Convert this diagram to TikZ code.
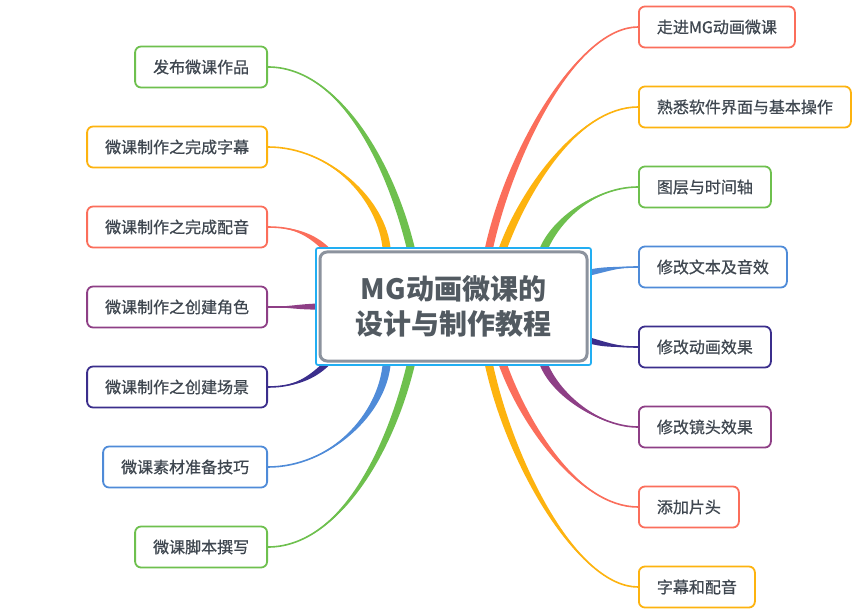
\documentclass[tikz,border=0pt]{standalone}
\usepackage{fontspec}
\newfontfamily\cjk{Noto Sans CJK SC}[FakeBold=0.7]
\newfontfamily\cjkroot{Noto Sans CJK SC}
\usetikzlibrary{calc,fit,backgrounds,positioning}

\definecolor{bred}{HTML}{FB6E5B}
\definecolor{byellow}{HTML}{FDB30F}
\definecolor{bgreen}{HTML}{6EC04E}
\definecolor{bblue}{HTML}{4F8BD8}
\definecolor{bnavy}{HTML}{3B2E8C}
\definecolor{bpurple}{HTML}{8E3F86}
\definecolor{ink}{HTML}{3F4750}
\definecolor{rootgray}{HTML}{8C939E}
\definecolor{halo}{HTML}{22AEF2}

\tikzset{
  leaf/.style={draw=#1, fill=white, line width=1.8pt, rounded corners=6pt,
    minimum height=41pt, inner xsep=18pt, text=ink,
    font=\cjk\fontsize{16}{16}\selectfont},
  rootbox/.style={draw=rootgray, fill=white, line width=3pt, rounded corners=7pt,
    minimum width=267pt, minimum height=109pt, align=center, text=ink!90,
    font=\cjkroot\bfseries\fontsize{28}{35}\selectfont},
}

% tapered branch: [half width]{colour}{start}{control 1}{control 2}{end}
\newcommand{\branch}[6][4pt]{%
  \fill[#2] ($(#3)!#1!90:(#4)$) .. controls ($(#4)!#1!-90:(#3)$) and (#5) .. (#6)
    .. controls (#5) and ($(#4)!#1!90:(#3)$) .. ($(#3)!#1!-90:(#4)$) -- cycle;
  \draw[#2, line width=1.6pt] (#3) .. controls (#4) and (#5) .. (#6);}

\begin{document}
\begin{tikzpicture}[x=1pt, y=-1pt]
    \useasboundingbox (0,0) rectangle (867,612);

    \node[rootbox] (root) at (453.5,306.5) {MG动画微课的\\设计与制作教程};

    % right side
    \node[leaf=bred, anchor=west] (r1) at (638,27) {走进MG动画微课};
    \node[leaf=byellow, anchor=west] (r2) at (638,107) {熟悉软件界面与基本操作};
    \node[leaf=bgreen, anchor=west] (r3) at (638,187) {图层与时间轴};
    \node[leaf=bblue, anchor=west] (r4) at (638,267) {修改文本及音效};
    \node[leaf=bnavy, anchor=west] (r5) at (638,347) {修改动画效果};
    \node[leaf=bpurple, anchor=west] (r6) at (638,427) {修改镜头效果};
    \node[leaf=bred, anchor=west] (r7) at (638,507) {添加片头};
    \node[leaf=byellow, anchor=west] (r8) at (638,587) {字幕和配音};

    % left side
    \node[leaf=bgreen, anchor=east] (l1) at (268,67) {发布微课作品};
    \node[leaf=byellow, anchor=east] (l2) at (268,147) {微课制作之完成字幕};
    \node[leaf=bred, anchor=east] (l3) at (268,227) {微课制作之完成配音};
    \node[leaf=bpurple, anchor=east] (l4) at (268,307) {微课制作之创建角色};
    \node[leaf=bnavy, anchor=east] (l5) at (268,387) {微课制作之创建场景};
    \node[leaf=bblue, anchor=east] (l6) at (268,467) {微课素材准备技巧};
    \node[leaf=bgreen, anchor=east] (l7) at (268,547) {微课脚本撰写};

    \begin{scope}[on background layer]
    \fill[white] (0,0) rectangle (867,612);
    \branch{bred}{root.58}{510,150}{578,27}{r1.west}
    \branch{byellow}{root.49}{523,192}{578,107}{r2.west}
    \branch{bgreen}{root.32}{555,220}{595,187}{r3.west}
    \branch[3pt]{bblue}{root.14}{605,269}{620,267}{r4.west}
    \branch[3pt]{bnavy}{root.346}{605,345}{620,347}{r5.west}
    \branch{bpurple}{root.328}{555,395}{600,427}{r6.west}
    \branch{bred}{root.311}{523,422}{578,507}{r7.west}
    \branch{byellow}{root.302}{510,464}{578,587}{r8.west}
    \branch{bgreen}{root.127}{390,161}{338,67}{l1.east}
    \branch{byellow}{root.140}{383,200}{330,147}{l2.east}
    \branch[3pt]{bred}{root.156}{312,235}{295,227}{l3.east}
    \branch[3pt]{bpurple}{root.180}{300,307}{285,307}{l4.east}
    \branch[3pt]{bnavy}{root.204}{312,378}{295,387}{l5.east}
    \branch{bblue}{root.220}{383,414}{330,467}{l6.east}
    \branch{bgreen}{root.233}{390,453}{338,547}{l7.east}
    \node[fit=(root), inner sep=2.5pt, draw=halo, fill=white, line width=1.7pt,
      rounded corners=2pt] (ring) {};
    \end{scope}
\end{tikzpicture}
\end{document}
